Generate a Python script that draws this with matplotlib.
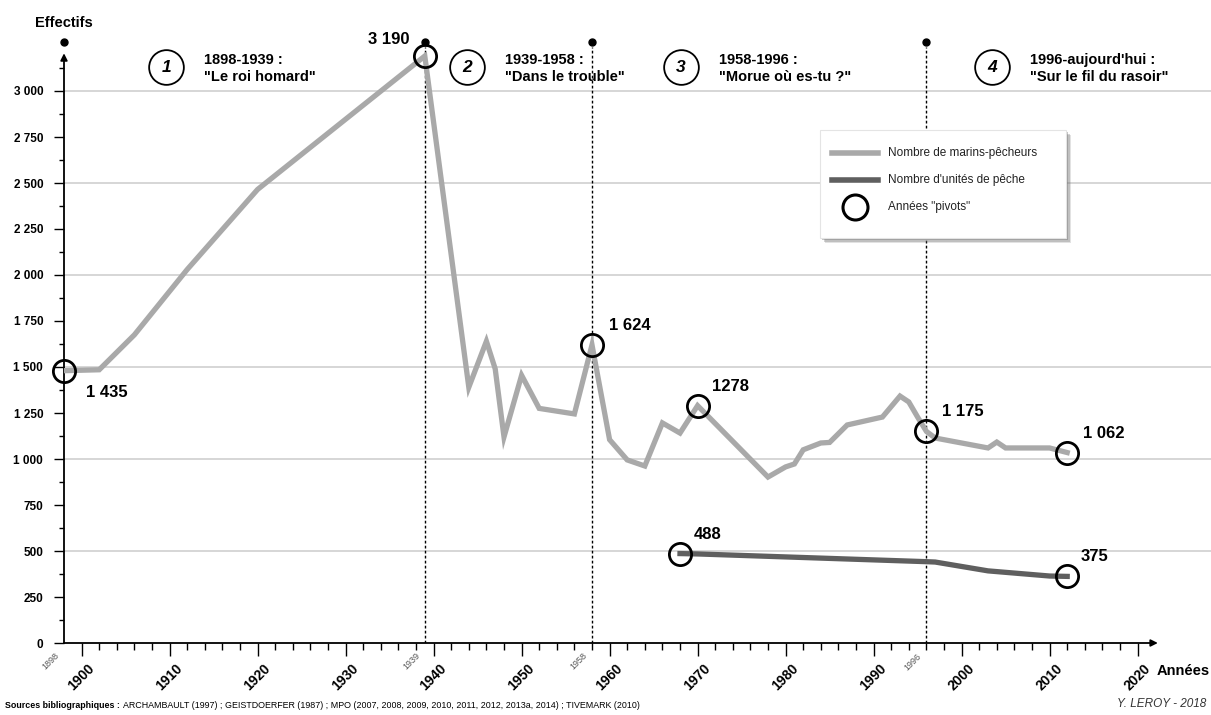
import matplotlib
matplotlib.use("Agg")
import matplotlib.pyplot as plt
from matplotlib.lines import Line2D
from matplotlib.patches import Rectangle
from matplotlib.transforms import ScaledTranslation
from matplotlib import font_manager
import numpy as np

plt.rcParams["font.family"] = "Liberation Sans"
_names = {f.name for f in font_manager.fontManager.ttflist}
narrow = "Liberation Sans Narrow" if "Liberation Sans Narrow" in _names else "Liberation Sans"

# %% data
pech_years = [1898, 1902, 1906, 1912, 1920, 1939, 1944, 1946, 1947, 1948, 1950, 1952,
              1956, 1958, 1960, 1962, 1964, 1966, 1968, 1970, 1978, 1980, 1981, 1982,
              1984, 1985, 1987, 1991, 1993, 1994, 1995, 1996, 1997, 2003, 2004, 2005,
              2010, 2012]
pech_vals = [1480, 1485, 1675, 2030, 2465, 3190, 1390, 1640, 1490, 1120, 1455, 1275,
             1245, 1620, 1105, 995, 962, 1196, 1141, 1290, 902, 957, 973, 1050,
             1087, 1090, 1185, 1228, 1342, 1310, 1228, 1150, 1114, 1060, 1092, 1060,
             1060, 1035]

unit_years = [1968, 1970, 1996, 1997, 2003, 2010, 2012]
unit_vals = [486, 484, 442, 440, 392, 364, 362]

pivot_x = [1898, 1939, 1958, 1970, 1996, 2012, 1968, 2012]
pivot_y = [1480, 3190, 1620, 1290, 1150, 1035, 486, 362]
pivot_labels = ["1 435", "3 190", "1 624", "1278", "1 175", "1 062", "488", "375"]
label_offsets = [(31, -16), (-26, 12), (27, 14), (24, 14), (26, 14), (26, 14), (20, 14), (20, 14)]

period_years = [1939, 1958, 1996]
period_nums = ["1", "2", "3", "4"]
period_titles = ['1898-1939 :\n"Le roi homard"',
                 '1939-1958 :\n"Dans le trouble"',
                 '1958-1996 :\n"Morue où es-tu ?"',
                 '1996-aujourd\'hui :\n"Sur le fil du rasoir"']
period_circle_x = [1909.6, 1943.8, 1968.1, 2003.5]

legend_labels = ["Nombre de marins-pêcheurs", "Nombre d'unités de pêche", 'Années "pivots"']

yticks = np.arange(0, 3001, 250)
ytick_labels = [f"{v:,}".replace(",", " ") for v in yticks]
xticks = np.arange(1900, 2021, 10)

light = "#a9a9a9"
dark = "#5f5f5f"

W, H = 1211, 715


def fx(px):
    return px / W


def fy(py):
    return 1 - py / H


# %%
fig = plt.figure(figsize=(12.11, 7.15), dpi=100)
ax = fig.add_axes([fx(64), 72 / H, 1095.6 / W, 607.2 / H])
ax.set_xlim(1898, 2022.5)
ax.set_ylim(0, 3300)
for s in ax.spines.values():
    s.set_visible(False)

# grid
ax.hlines(np.arange(500, 3001, 500), 1898, 2028.5, color="#cfcfcf", lw=1.2,
          clip_on=False, zorder=0)

# ticks
ax.set_yticks(yticks)
ax.set_yticklabels(ytick_labels, fontsize=8.5, fontweight="bold")
ax.set_yticks(np.arange(125, 3126, 250), minor=True)
ax.tick_params(axis="y", which="major", length=7, width=1, pad=8)
ax.tick_params(axis="y", which="minor", length=3.5, width=1)
ax.set_xticks(xticks)
ax.set_xticks(np.arange(1902, 2021, 2), minor=True)
ax.tick_params(axis="x", which="major", length=9, width=1, pad=4.5)
ax.tick_params(axis="x", which="minor", length=5, width=1)
ax.set_xticklabels([str(x) for x in xticks], fontsize=10, fontweight="bold",
                   rotation=45, ha="right", rotation_mode="anchor")
shift = ScaledTranslation(4 / 72, 0, fig.dpi_scale_trans)
for lab in ax.get_xticklabels():
    lab.set_transform(lab.get_transform() + shift)

# axis arrows
ax.annotate("", xy=(1898, 3205), xytext=(1898, 0), annotation_clip=False,
            arrowprops=dict(arrowstyle="-|>", color="black", lw=1.3,
                            mutation_scale=10, shrinkA=0, shrinkB=0))
ax.annotate("", xy=(2022.3, 0), xytext=(1898, 0), annotation_clip=False,
            arrowprops=dict(arrowstyle="-|>", color="black", lw=1.3,
                            mutation_scale=10, shrinkA=0, shrinkB=0))

# period separators
ax.vlines(period_years, 0, 3240, colors="black", lw=1, linestyles=(0, (2, 1.6)), zorder=1)
ax.plot([1898] + period_years, [3266] * 4, "o", color="black", ms=5, clip_on=False)
for yr in [1898] + period_years:
    ax.annotate(str(yr), xy=(yr, 0), xytext=(-7, -6), textcoords="offset points",
                fontsize=6.5, color="#555555", rotation=45, ha="right", va="top",
                rotation_mode="anchor", annotation_clip=False)

# data
ax.plot(pech_years, pech_vals, color=light, lw=3.8, solid_joinstyle="miter", zorder=3)
ax.plot(unit_years, unit_vals, color=dark, lw=3.8, zorder=3)
ax.plot(pivot_x, pivot_y, "o", ms=16, mfc="none", mec="black", mew=2, zorder=5,
        clip_on=False)
for x, y, lab, off in zip(pivot_x, pivot_y, pivot_labels, label_offsets):
    ax.annotate(lab, xy=(x, y), xytext=off, textcoords="offset points",
                ha="center", va="center", fontsize=12, fontweight="bold",
                annotation_clip=False)

# period headers
for cx, num, title in zip(period_circle_x, period_nums, period_titles):
    ax.plot(cx, 3130, "o", ms=25, mfc="white", mec="black", mew=1.3, clip_on=False)
    ax.text(cx, 3130, num, fontsize=12.5, fontweight="bold", style="italic",
            ha="center", va="center")
    ax.text(cx + 4.3, 3122, title, fontsize=10.5, fontweight="bold", ha="left",
            va="center", linespacing=1.35)

# legend box drawn by hand
lx0, ly0, lx1, ly1 = 820, 130, 1066, 238
for dx, a in [(5, 0.2), (3.5, 0.3), (2, 0.4)]:
    fig.patches.append(Rectangle((fx(lx0 + dx), fy(ly1 + dx)), (lx1 - lx0) / W,
                                 (ly1 - ly0) / H, transform=fig.transFigure,
                                 facecolor="#6f6f6f", edgecolor="none", alpha=a, zorder=8))
fig.patches.append(Rectangle((fx(lx0), fy(ly1)), (lx1 - lx0) / W, (ly1 - ly0) / H,
                             transform=fig.transFigure, facecolor="white",
                             edgecolor="#e4e4e4", lw=0.8, zorder=9))
row_y = [153, 180, 207]
fig.add_artist(Line2D([fx(832), fx(878)], [fy(row_y[0])] * 2, color=light, lw=4,
                      transform=fig.transFigure, zorder=10))
fig.add_artist(Line2D([fx(832), fx(878)], [fy(row_y[1])] * 2, color=dark, lw=4,
                      transform=fig.transFigure, zorder=10))
fig.add_artist(Line2D([fx(855)], [fy(row_y[2])], marker="o", ms=18, mfc="none",
                      mec="black", mew=2.2, transform=fig.transFigure, zorder=10))
for ry, lab in zip(row_y, legend_labels):
    fig.text(fx(888), fy(ry), lab, fontsize=8.5, ha="left", va="center",
             color="#222222", zorder=10)

# titles and credits
fig.text(fx(64), fy(23), "Effectifs", fontsize=10.5, fontweight="bold",
         ha="center", va="center")
fig.text(fx(1157), fy(671), "Années", fontsize=10.5, fontweight="bold",
         ha="left", va="center")
src_bold = fig.text(fx(5), fy(706), "Sources bibliographiques :", fontsize=6.4,
                    fontweight="bold", family=narrow, ha="left", va="center")
fig.canvas.draw()
bb = src_bold.get_window_extent()
fig.text((bb.x1 + 3) / W, fy(706),
         "ARCHAMBAULT (1997) ; GEISTDOERFER (1987) ; MPO (2007, 2008, 2009, 2010, 2011, "
         "2012, 2013a, 2014) ; TIVEMARK (2010)",
         fontsize=6.4, family=narrow, ha="left", va="center")
fig.text(fx(1206), fy(704), "Y. LEROY - 2018", fontsize=8.5, style="italic",
         ha="right", va="center", color="#333333")

fig.savefig("out.png", dpi=100)
